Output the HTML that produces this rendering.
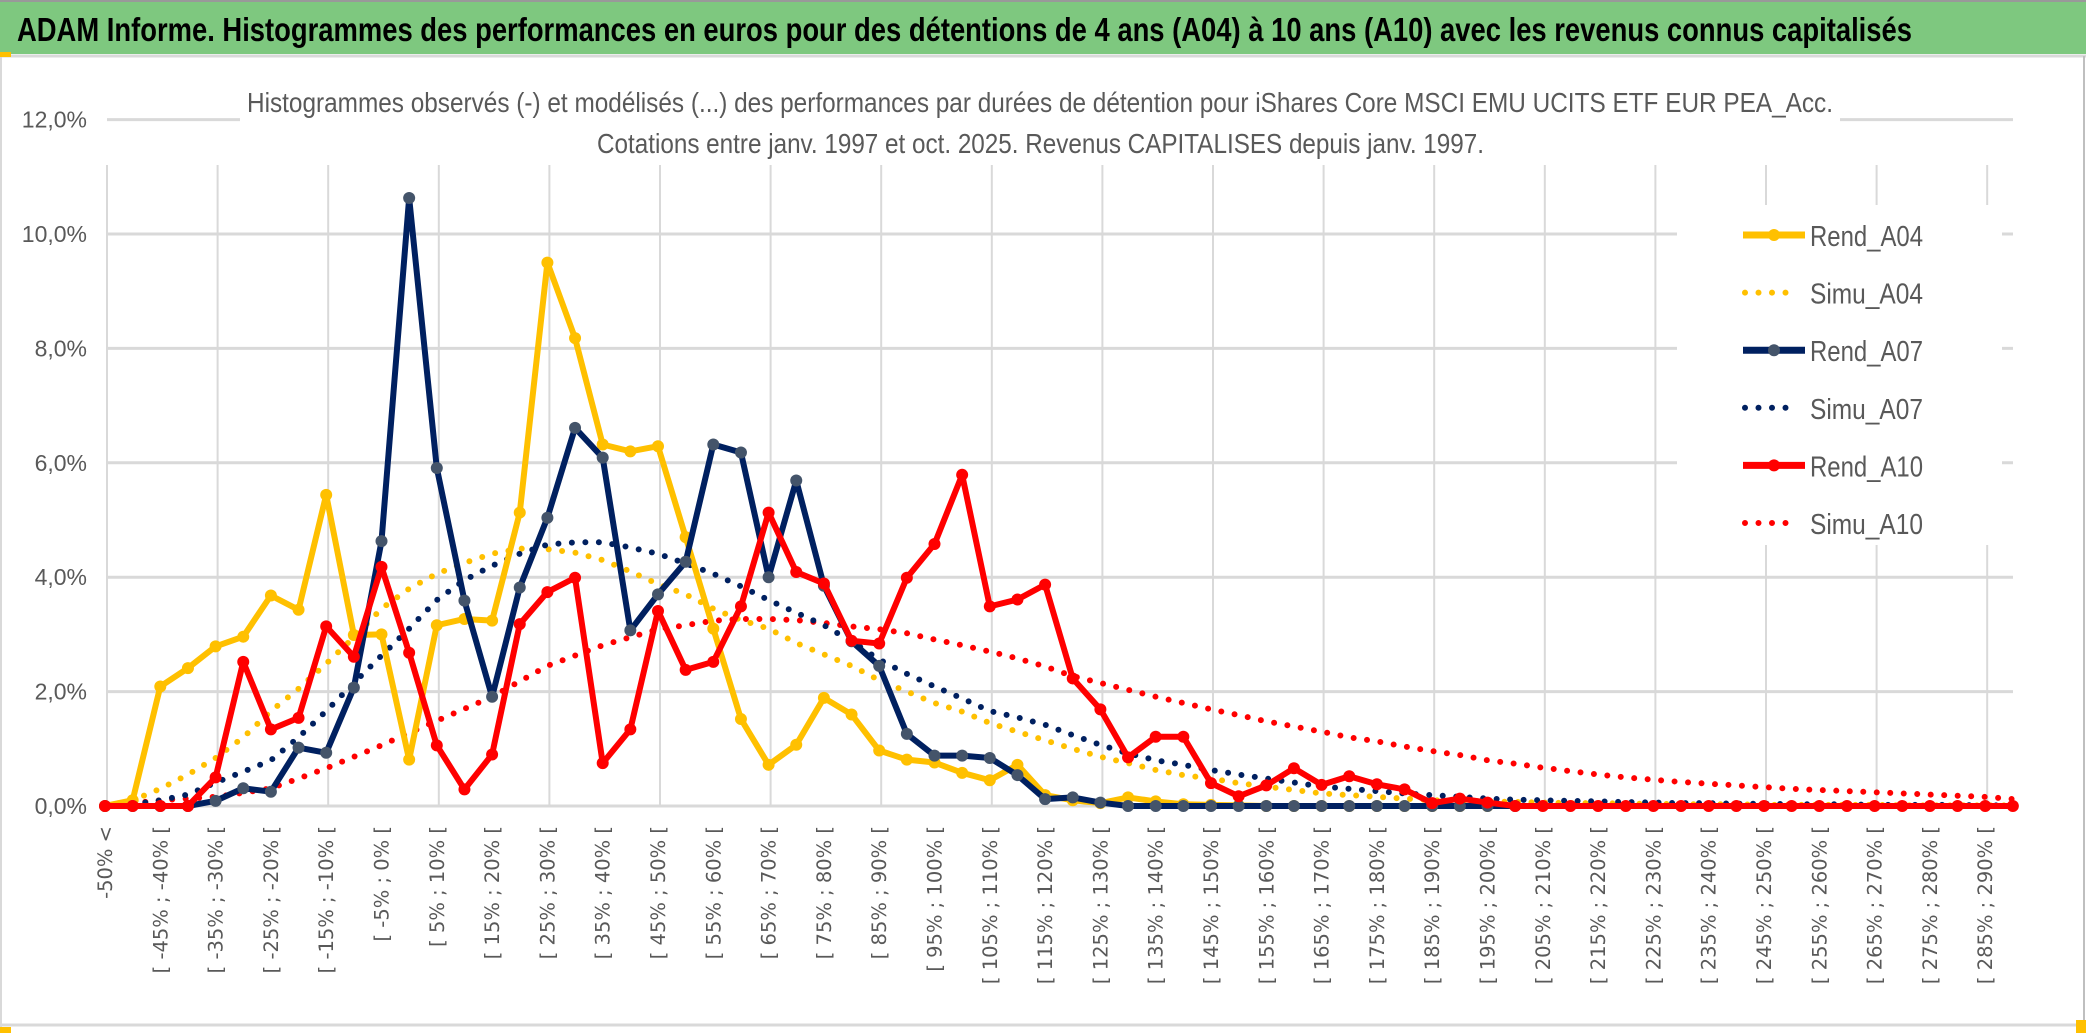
<!DOCTYPE html>
<html><head><meta charset="utf-8"><style>
html,body{margin:0;padding:0;background:#fff;width:2086px;height:1033px;overflow:hidden}
svg{display:block}
</style></head><body>
<svg id="chart" width="2086" height="1033" xmlns="http://www.w3.org/2000/svg" font-family="Liberation Sans, sans-serif">
<rect x="0" y="0" width="2086" height="1033" fill="#fff"/>
<rect x="0" y="0" width="2086" height="54" fill="#7ec87f"/>
<line x1="0" y1="1" x2="2086" y2="1" stroke="#999" stroke-width="2"/>
<line x1="0" y1="56" x2="2086" y2="56" stroke="#d9d9d9" stroke-width="3"/>
<line x1="2084" y1="56" x2="2084" y2="1033" stroke="#bfbfbf" stroke-width="2"/>
<line x1="0" y1="1025" x2="2086" y2="1025" stroke="#d9d9d9" stroke-width="3"/>
<line x1="1" y1="56" x2="1" y2="1033" stroke="#d9d9d9" stroke-width="2"/>
<rect x="0" y="52" width="11" height="5" fill="#ffc000"/>
<rect x="0" y="1027" width="11" height="6" fill="#ffc000"/>
<rect x="2076" y="1020" width="10" height="13" fill="#ffc000"/>
<text x="17" y="41" font-size="33" font-weight="bold" fill="#000" textLength="1895" lengthAdjust="spacingAndGlyphs">ADAM Informe. Histogrammes des performances en euros pour des détentions de 4 ans (A04) à 10 ans (A10) avec les revenus connus capitalisés</text>
<g id="grid"></g>
<rect x="240" y="70" width="1600" height="92" fill="#fff"/>
<text x="247" y="112" font-size="28" fill="#595959" textLength="1586" lengthAdjust="spacingAndGlyphs">Histogrammes observés (-) et modélisés (...) des performances par durées de détention pour iShares Core MSCI EMU UCITS ETF EUR PEA_Acc.</text>
<text x="597" y="153" font-size="28" fill="#595959" textLength="887" lengthAdjust="spacingAndGlyphs">Cotations entre janv. 1997 et oct. 2025. Revenus CAPITALISES depuis janv. 1997.</text>
<g id="yaxis"></g>
<g id="xaxis"></g>
<g id="series"></g>
<g id="legend"></g>
</svg>
<script>
const yTicks = [0, 2, 4, 6, 8, 10, 12];
const yTickLabels = ["0,0%", "2,0%", "4,0%", "6,0%", "8,0%", "10,0%", "12,0%"];
const categories = (function(){ const c=["-50% <"]; for(let a=-50;a<=295;a+=5){ c.push("[ "+a+"% ; "+(a+5)+"% ["); } return c.slice(0,70); })();
const rendA04 = [0,0.1,2.09,2.41,2.79,2.96,3.68,3.43,5.44,2.99,3.0,0.81,3.16,3.27,3.24,5.13,9.5,8.18,6.32,6.2,6.29,4.7,3.1,1.52,0.72,1.07,1.89,1.6,0.97,0.81,0.76,0.58,0.45,0.72,0.19,0.1,0.05,0.15,0.08,0.03,0.02,0.01,0,0,0,0,0,0,0,0,0];
const rendA07 = [0,0,0,0,0.09,0.31,0.25,1.02,0.93,2.07,4.63,10.63,5.91,3.59,1.91,3.82,5.04,6.61,6.09,3.07,3.7,4.27,6.32,6.18,4.0,5.69,3.85,2.88,2.45,1.26,0.88,0.88,0.84,0.54,0.12,0.15,0.06,0,0,0,0,0,0,0,0,0,0,0,0,0,0,0];
const rendA10 = [0,0,0,0,0.5,2.52,1.34,1.54,3.14,2.61,4.18,2.68,1.06,0.29,0.9,3.18,3.74,3.99,0.75,1.34,3.41,2.38,2.52,3.49,5.13,4.09,3.89,2.89,2.84,3.99,4.58,5.79,3.49,3.61,3.87,2.23,1.69,0.85,1.21,1.21,0.4,0.17,0.36,0.66,0.37,0.52,0.38,0.29,0.05,0.13,0.06,0,0,0,0,0,0,0,0,0,0,0,0,0,0,0,0,0,0,0];
const simuA04 = [0,0.1,0.3,0.55,0.84,1.2,1.66,2.05,2.49,2.95,3.45,3.8,4.06,4.25,4.41,4.5,4.49,4.43,4.3,4.1,3.88,3.7,3.45,3.25,3.1,2.85,2.65,2.45,2.2,2.0,1.8,1.65,1.45,1.3,1.15,1.0,0.86,0.75,0.63,0.54,0.48,0.4,0.34,0.28,0.22,0.19,0.16,0.13,0.1,0.09,0.08,0.07,0.06,0.05,0.05,0.04,0.04,0.03,0.03,0.03,0.02,0.02,0.02,0.02,0.02,0.01,0.01,0.01,0.01,0.01];
const simuA07 = [0,0.03,0.1,0.2,0.41,0.6,0.8,1.2,1.66,2.15,2.63,3.1,3.6,3.95,4.2,4.41,4.57,4.61,4.61,4.52,4.41,4.24,4.06,3.84,3.6,3.38,3.16,2.88,2.56,2.31,2.09,1.88,1.66,1.55,1.42,1.24,1.07,0.92,0.8,0.72,0.63,0.55,0.48,0.41,0.34,0.3,0.26,0.22,0.19,0.16,0.13,0.11,0.1,0.09,0.08,0.07,0.06,0.05,0.05,0.04,0.04,0.03,0.03,0.03,0.02,0.02,0.02,0.02,0.01,0.01];
const simuA10 = [0,0.05,0.1,0.13,0.16,0.23,0.31,0.48,0.66,0.86,1.06,1.28,1.49,1.7,1.91,2.18,2.45,2.63,2.81,2.95,3.09,3.16,3.24,3.27,3.27,3.25,3.2,3.14,3.09,3.02,2.91,2.81,2.7,2.58,2.44,2.27,2.15,2.03,1.91,1.8,1.69,1.59,1.48,1.39,1.3,1.2,1.13,1.04,0.96,0.89,0.8,0.74,0.67,0.61,0.55,0.5,0.46,0.42,0.39,0.36,0.33,0.3,0.28,0.26,0.24,0.22,0.2,0.18,0.16,0.12];
const seriesNames = ["Rend_A04","Simu_A04","Rend_A07","Simu_A07","Rend_A10","Simu_A10"];

const NS="http://www.w3.org/2000/svg";
const X0=105, DX=27.65, Y0=806, PY=57.2;
function xs(i){return X0+i*DX;}
function ys(v){return Y0-v*PY;}
function mk(tag,attrs,parent){const e=document.createElementNS(NS,tag);for(const k in attrs)e.setAttribute(k,attrs[k]);parent.appendChild(e);return e;}

const grid=document.getElementById('grid');
yTicks.forEach(function(t){
  const l=mk('line',{x1:107,y1:ys(t),x2:2013,y2:ys(t),stroke:'#d9d9d9','stroke-width':3},grid);
  
  
});
for(let i=0;i<=68;i+=4){
  const l=mk('line',{x1:xs(i)+2,y1:165,x2:xs(i)+2,y2:Y0,stroke:'#d9d9d9','stroke-width':2},grid);
  
  
}
const ya=document.getElementById('yaxis');
yTicks.forEach(function(t,k){
  const tx=mk('text',{x:87,y:ys(t)+8,'font-size':23,fill:'#595959','text-anchor':'end'},ya);
  
  
  tx.textContent=yTickLabels[k];
});
const xa=document.getElementById('xaxis');
categories.forEach(function(c,i){
  if(i%2!==0)return;
  const tx=mk('text',{x:0,y:0,'font-size':19.5,fill:'#595959','font-family':'DejaVu Sans, sans-serif','text-anchor':'end',transform:'translate('+(xs(i)+7)+',826) rotate(-90)'},xa);
  
  
  tx.textContent=c;
});

const lg=document.getElementById('legend');
mk('rect',{x:1677,y:205,width:325,height:340,fill:'#fff'},lg);

const sg=document.getElementById('series');
function pts(arr){return arr.map(function(v,i){return xs(i)+','+ys(v);}).join(' ');}
function drawSim(arr,color,name){
  const p=mk('polyline',{points:pts(arr),fill:'none',stroke:color,'stroke-width':6,'stroke-linecap':'round','stroke-dasharray':'0 13.5'},sg);
  
  
}
function drawRend(arr,color,mcolor,name){
  const p=mk('polyline',{points:pts(arr),fill:'none',stroke:color,'stroke-width':6,'stroke-linejoin':'round'},sg);
  
  
  arr.forEach(function(v,i){
    const c=mk('circle',{cx:xs(i),cy:ys(v),r:6,fill:mcolor},sg);
    
    
  });
}
drawSim(simuA10,'#ff0000','simu-a10-line');
drawSim(simuA04,'#ffc000','simu-a04-line');
drawSim(simuA07,'#002060','simu-a07-line');
drawRend(rendA04,'#ffc000','#ffc000','rend-a04-line');
drawRend(rendA07,'#002060','#44546a','rend-a07-line');
drawRend(rendA10,'#ff0000','#ff0000','rend-a10-line');

const legColors=['#ffc000','#ffc000','#002060','#002060','#ff0000','#ff0000'];
const legMark=['#ffc000',null,'#44546a',null,'#ff0000',null];
seriesNames.forEach(function(n,k){
  const y=235+k*57.6;
  const g=mk('g',{},lg);
  
  
  if(legMark[k]){
    mk('line',{x1:1743,y1:y,x2:1805,y2:y,stroke:legColors[k],'stroke-width':7},g);
    mk('circle',{cx:1774,cy:y,r:6,fill:legMark[k]},g);
  } else {
    mk('line',{x1:1745,y1:y,x2:1792,y2:y,stroke:legColors[k],'stroke-width':6,'stroke-linecap':'round','stroke-dasharray':'0 13.5'},g);
  }
  const t=mk('text',{x:1810,y:y+11,'font-size':29,fill:'#595959',textLength:113,lengthAdjust:'spacingAndGlyphs'},g);
  t.textContent=n;
});
</script>
</body></html>
